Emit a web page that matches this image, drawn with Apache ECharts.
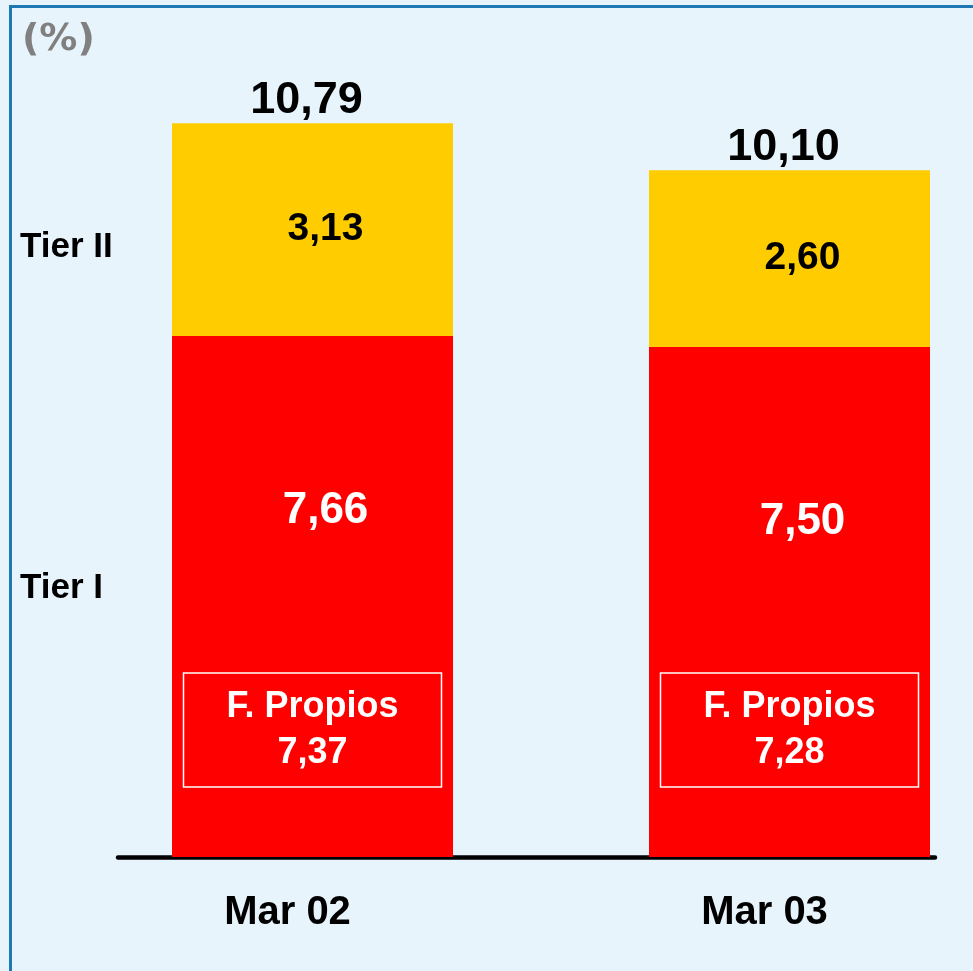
<!DOCTYPE html>
<html><head><meta charset="utf-8">
<script src="https://cdn.jsdelivr.net/npm/echarts@6/dist/echarts.min.js"></script>
<style>html,body{margin:0;padding:0;background:#E8F4FC;}#c{width:973px;height:971px;}</style>
</head><body><div id="c"></div>
<script>
const categories = ['Mar 02', 'Mar 03'];
const tier1 = [7.66, 7.50];
const tier2 = [3.13, 2.60];
const totals = [10.79, 10.10];
const fondosPropios = [7.37, 7.28];
const seriesNames = ['Tier I', 'Tier II'];

const fmt = v => v.toFixed(2).replace('.', ',');
const FONT = '"Liberation Sans", Arial, sans-serif';

const chart = echarts.init(document.getElementById('c'));
chart.setOption({
  backgroundColor: '#E8F4FC',
  animation: false,
  title: {
    text: '(%)', left: 17, top: 16,
    textStyle: { fontFamily: '"DejaVu Sans", Verdana, sans-serif', fontWeight: 'bold', fontSize: 38, color: '#808080' }
  },
  graphic: [
    { type: 'rect', shape: { x: 10.5, y: 6.5, width: 1000, height: 1000 }, style: { fill: 'none', stroke: '#1f77b4', lineWidth: 3 }, silent: true },
    { type: 'text', left: 20, top: 230, style: { text: seriesNames[1], font: 'bold 35px ' + FONT, fill: '#000' } },
    { type: 'text', left: 20, top: 571, style: { text: seriesNames[0], font: 'bold 35px ' + FONT, fill: '#000' } }
  ],
  grid: [
    { left: 74, width: 954, top: 41, bottom: 114, outerBoundsMode: 'none', containLabel: false },
    { left: 118, right: 38, top: 41, bottom: 114, outerBoundsMode: 'none', containLabel: false }
  ],
  xAxis: [
    {
      type: 'category', gridIndex: 0, data: categories,
      axisLine: { show: false }, axisTick: { show: false },
      axisLabel: {
        margin: 36, padding: [0, 50, 0, 0],
        fontFamily: FONT, fontWeight: 'bold', fontSize: 40, color: '#000'
      }
    },
    {
      type: 'value', gridIndex: 1, min: 0, max: 1,
      axisLine: { show: true, onZero: false, lineStyle: { color: '#000', width: 4.5 } },
      axisTick: { show: false }, axisLabel: { show: false }, splitLine: { show: false }
    }
  ],
  yAxis: [
    { type: 'value', gridIndex: 0, min: 0, max: 12, show: false },
    { type: 'value', gridIndex: 1, min: 0, max: 12, show: false }
  ],
  series: [
    {
      name: seriesNames[0], type: 'bar', stack: 'a', barWidth: 281, barGap: '-100%',
      itemStyle: { color: '#FF0000' },
      data: tier1,
      label: {
        show: true, position: 'insideTop', distance: 153, offset: [13, 0],
        formatter: p => fmt(tier1[p.dataIndex]),
        fontFamily: FONT, fontWeight: 'bold', fontSize: 44, color: '#fff'
      }
    },
    {
      name: seriesNames[1], type: 'bar', stack: 'a', barWidth: 281,
      itemStyle: { color: '#FFCC00' },
      data: tier2,
      label: {
        show: true, position: 'inside', offset: [13, 0],
        formatter: p => fmt(tier2[p.dataIndex]),
        fontFamily: FONT, fontWeight: 'bold', fontSize: 39, color: '#000'
      }
    },
    {
      name: 'Total', type: 'bar', stack: 'a', barWidth: 281,
      itemStyle: { color: 'transparent' },
      data: totals.map(() => 0),
      label: {
        show: true, position: 'top', distance: 0, offset: [-6, 0],
        formatter: p => fmt(totals[p.dataIndex]),
        fontFamily: FONT, fontWeight: 'bold', fontSize: 45, color: '#000'
      }
    },
    {
      name: 'F. Propios', type: 'bar', stack: 'b', barWidth: 281, barGap: '-100%', z: 5,
      itemStyle: { color: 'transparent' },
      data: fondosPropios,
      label: {
        show: true, position: 'insideBottom', distance: 127,
        formatter: p => 'F. Propios\n' + fmt(fondosPropios[p.dataIndex]),
        width: 258, align: 'center', verticalAlign: 'middle',
        lineHeight: 46, padding: [11, 0, 11, 0],
        borderColor: '#fff', borderWidth: 1.5,
        fontFamily: FONT, fontWeight: 'bold', fontSize: 36, color: '#fff'
      }
    }
  ]
});
</script></body></html>
